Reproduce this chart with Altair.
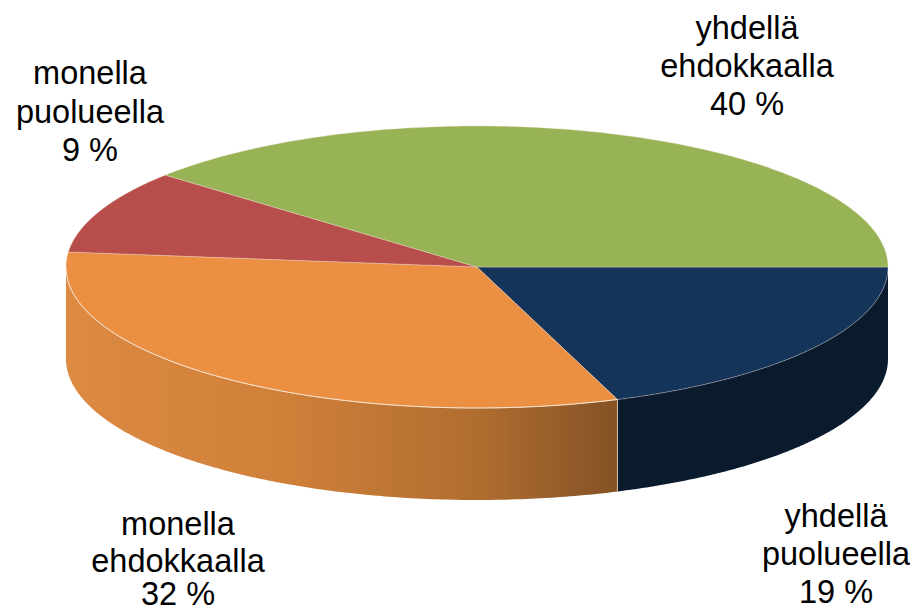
import numpy as np
import pandas as pd
import altair as alt

# Slices, clockwise from the right-hand edge of the pie (estimated unrounded shares)
names = ["yhdellä puolueella", "monella ehdokkaalla", "monella puolueella", "yhdellä ehdokkaalla"]
shares = [19.45, 32.25, 9.6, 38.7]
top_colors = ["#15345A", "#EB8F42", "#B84E4B", "#98B355"]

label_lines = ["yhdellä", "ehdokkaalla", "40 %", "monella", "puolueella", "9 %",
               "monella", "ehdokkaalla", "32 %", "yhdellä", "puolueella", "19 %"]
label_x = [747, 747, 747, 90, 90, 90, 178, 178, 178, 836, 836, 836]
label_y = [29, 67, 105, 74, 113, 151, 525, 562, 595, 517, 555, 593]

CX, CY, RX, RY, DEPTH = 477, 267, 411, 141, 92

X = alt.X("x:Q", axis=None, scale=alt.Scale(domain=[8, 910], nice=False, zero=False))
Y = alt.Y("y:Q", axis=None, scale=alt.Scale(domain=[613, 8], nice=False, zero=False))


def rim(a0, a1, n=160):
    t = np.radians(np.linspace(a0, a1, n))
    return CX + RX * np.cos(t), CY + RY * np.sin(t)


edges = np.concatenate([[0], np.cumsum(shares) * 3.6])
layers = []

# Side wall: blue part, then orange part with its horizontal shading
a_blue = edges[1]
for a0, a1, fill in [
    (0, a_blue, "#0B1B2E"),
    (a_blue, 180, alt.Gradient(
        gradient="linear", x1=0, x2=1, y1=0, y2=0,
        stops=[
            alt.GradientStop(offset=0, color="#DD8A43"),
            alt.GradientStop(offset=0.4, color="#CF8039"),
            alt.GradientStop(offset=0.75, color="#B06D30"),
            alt.GradientStop(offset=1, color="#845225"),
        ])),
]:
    xs, ys = rim(a0, a1)
    df = pd.DataFrame({"x": xs, "y": ys, "y2": ys + DEPTH})
    layers.append(alt.Chart(df).mark_area(fill=fill, stroke=None).encode(
        x=X, y=Y, y2="y2:Q"))

# Top face slices
for i, c in enumerate(top_colors):
    xs, ys = rim(edges[i], edges[i + 1])
    df = pd.DataFrame({
        "x": np.r_[CX, xs, CX],
        "y": np.r_[CY, ys, CY],
    })
    df["i"] = range(len(df))
    layers.append(alt.Chart(df).mark_line(fill=c, stroke="#F3E3D3", strokeWidth=0.5, strokeOpacity=0.7).encode(
        x=X, y=Y, order="i:Q"))

# Pale edges where the orange face meets the wall, and the wall's front seam
xs, ys = rim(a_blue, 180)
rim_df = pd.DataFrame({"x": xs, "y": ys, "i": range(len(xs))})
layers.append(alt.Chart(rim_df).mark_line(stroke="#F8E2CC", strokeWidth=1).encode(
    x=X, y=Y, order="i:Q"))
xs, ys = rim(a_blue, a_blue, 1)
seam = pd.DataFrame({"x": [xs[0]], "y": [ys[0]], "y2": [ys[0] + DEPTH]})
layers.append(alt.Chart(seam).mark_rule(stroke="#D9C3AE", strokeWidth=1).encode(
    x=X, y=Y, y2="y2:Q"))

labels = pd.DataFrame({"x": label_x, "y": label_y, "t": label_lines})
layers.append(alt.Chart(labels).mark_text(
    font="Liberation Sans", fontSize=32.5, color="#000000", align="center", baseline="middle"
).encode(x=X, y=Y, text="t:N"))

chart = alt.layer(*layers).properties(
    width=902, height=605, padding=0,
    autosize=alt.AutoSizeParams(type="none"),
).configure_view(stroke=None)

chart.save("out.html", embed_options={"renderer": "svg", "actions": False})
